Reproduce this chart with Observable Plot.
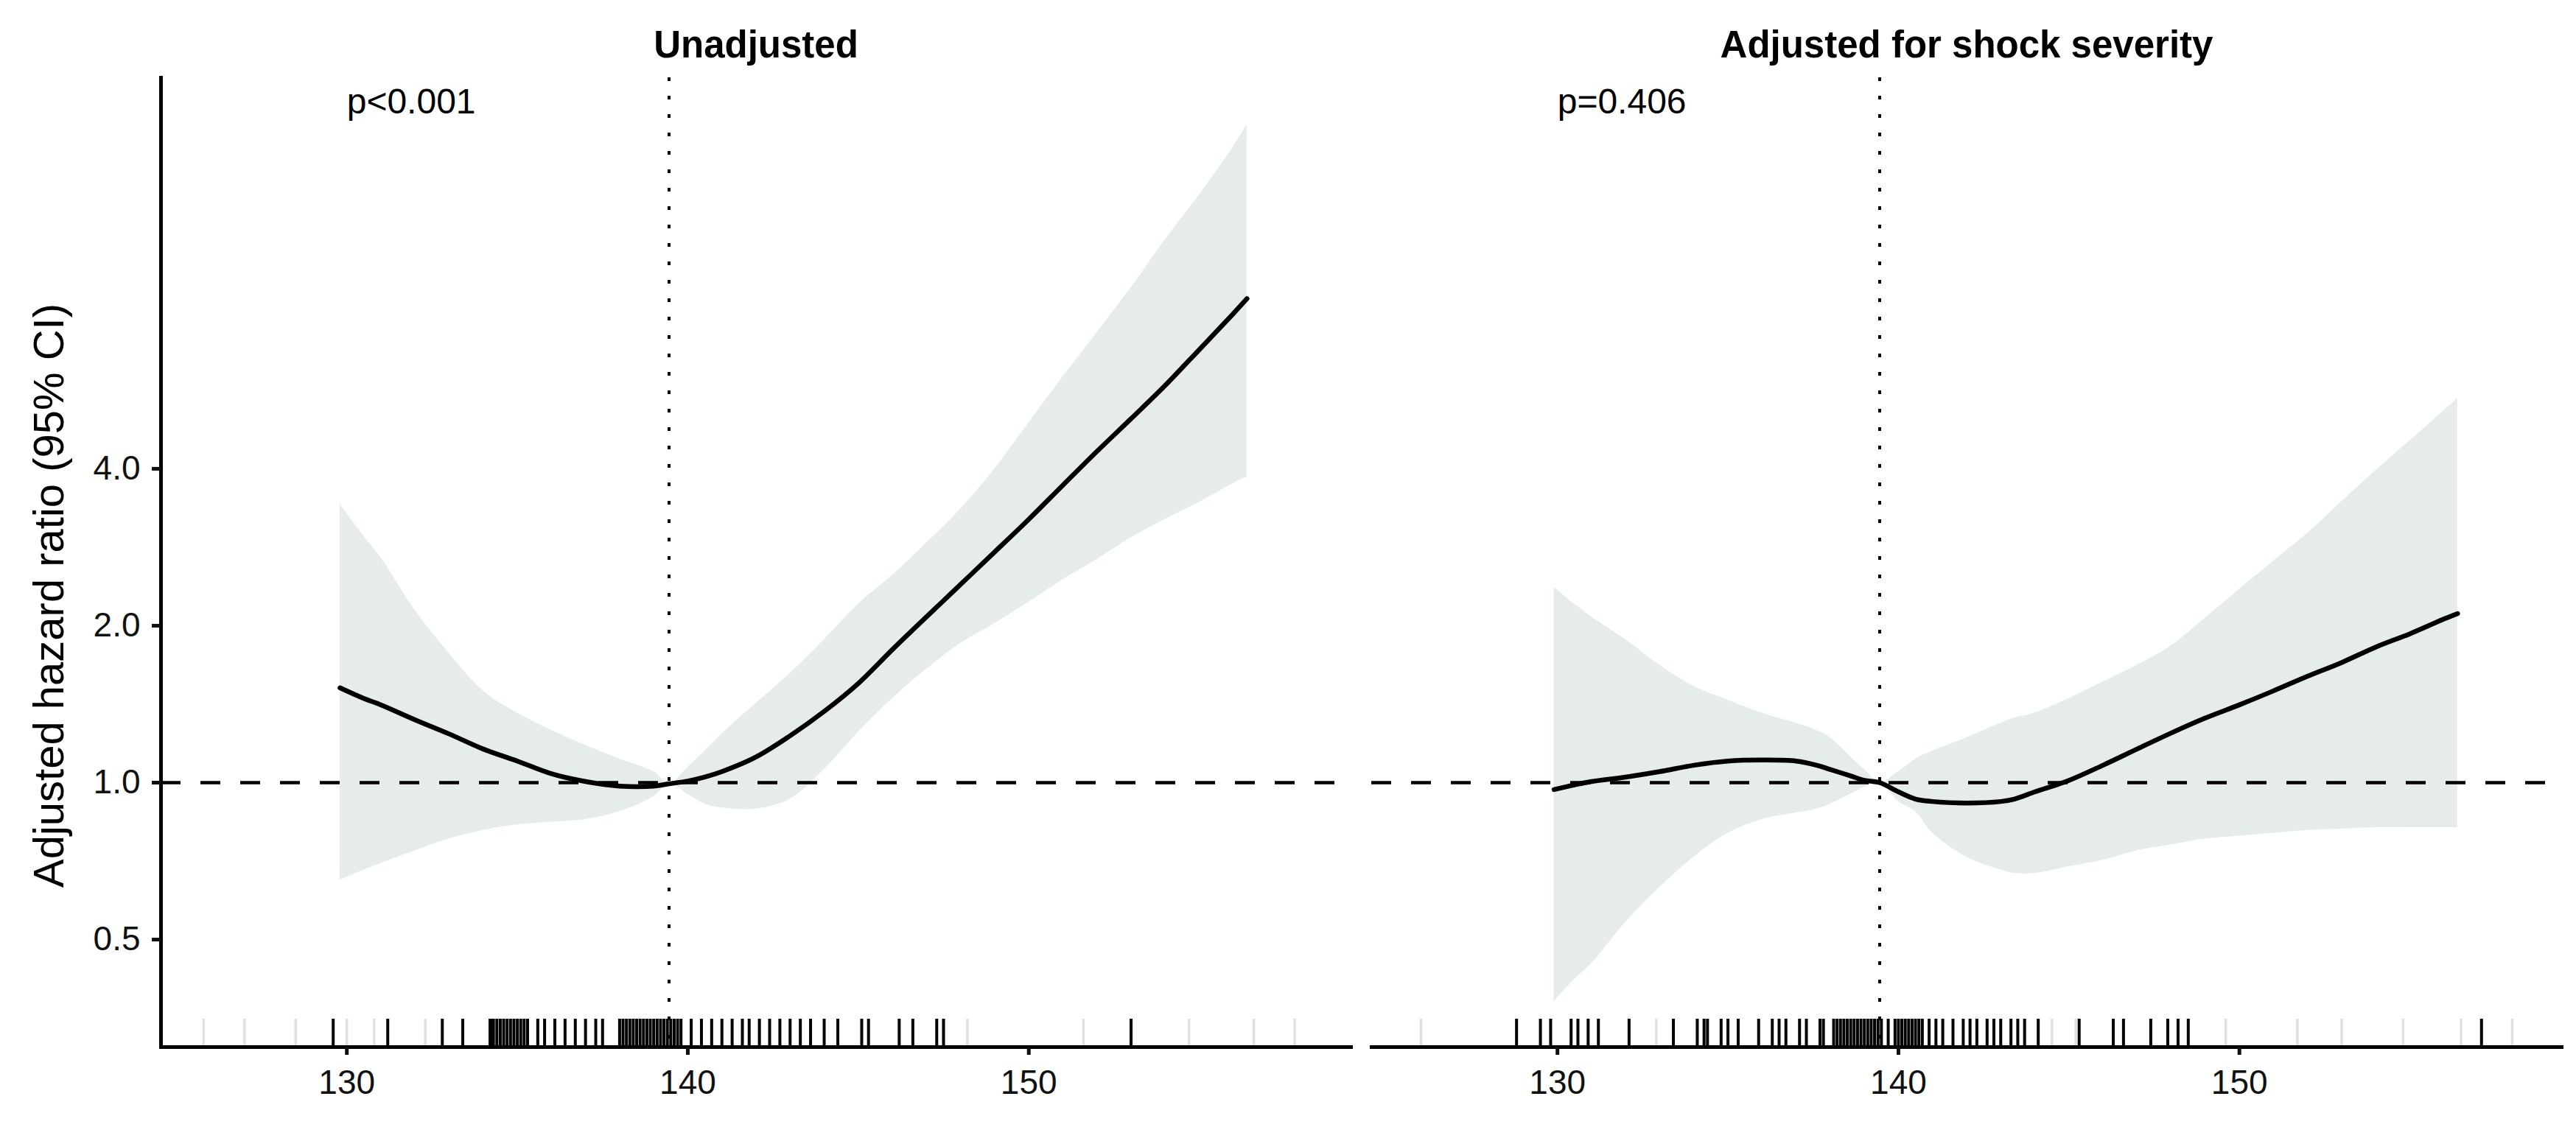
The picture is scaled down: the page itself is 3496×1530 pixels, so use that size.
<!DOCTYPE html>
<html>
<head>
<meta charset="utf-8">
<script src="https://cdn.jsdelivr.net/npm/d3@7"></script>
<script src="https://cdn.jsdelivr.net/npm/@observablehq/plot@0.6"></script>
<style>
  html, body { margin: 0; padding: 0; background: #ffffff; }
  #chart svg { display: block; font-family: "Liberation Sans", Arial, sans-serif; }
</style>
</head>
<body>
<div id="chart"></div>
<script>
// ---------- data ----------
const panels = ["Unadjusted", "Adjusted for shock severity"];
const pValues = ["p<0.001", "p=0.406"];
const pValueX = 130;
const refMAP = 139.45;
const xTicks = [130, 140, 150];
const yTicks = [0.5, 1, 2, 4];
const yLabel = "Adjusted hazard ratio (95% CI)";

// Unadjusted spline (MAP, HR, lower CI, upper CI)
const unadjX  = [129.8, 130.5, 131, 132, 133, 134, 135, 136, 137, 138, 139, 139.45, 140, 140.5, 141, 142, 143, 144, 145, 146, 147, 148, 149, 150, 151, 152, 153, 154, 155, 156, 156.4];
const unadjHR = [1.52, 1.45, 1.41, 1.32, 1.24, 1.16, 1.10, 1.04, 1.005, 0.985, 0.985, 0.995, 1.007, 1.025, 1.05, 1.12, 1.23, 1.37, 1.55, 1.80, 2.08, 2.40, 2.77, 3.20, 3.72, 4.32, 4.99, 5.78, 6.77, 7.94, 8.48];
const unadjLo = [0.65, 0.68, 0.70, 0.74, 0.78, 0.81, 0.83, 0.84, 0.85, 0.88, 0.94, 0.995, 0.95, 0.91, 0.895, 0.89, 0.93, 1.06, 1.25, 1.45, 1.65, 1.85, 2.02, 2.22, 2.45, 2.68, 2.95, 3.2, 3.45, 3.75, 3.86];
const unadjHi = [3.42, 2.97, 2.7, 2.14, 1.77, 1.50, 1.36, 1.26, 1.18, 1.11, 1.05, 0.995, 1.07, 1.15, 1.24, 1.42, 1.62, 1.88, 2.2, 2.5, 2.88, 3.35, 4.0, 4.9, 6.0, 7.3, 8.9, 11.0, 13.4, 16.6, 18.3];

// Adjusted for shock severity
const adjX  = [129.9, 130.5, 131, 132, 133, 134, 135, 136, 137, 137.6, 138, 138.6, 139, 139.45, 140, 140.5, 141, 142, 143, 143.4, 144, 145, 146, 147, 148, 149, 150, 151, 152, 153, 154, 155, 156, 156.4];
const adjHR = [0.97, 0.99, 1.005, 1.025, 1.05, 1.08, 1.10, 1.105, 1.10, 1.08, 1.06, 1.03, 1.01, 1.0, 0.96, 0.93, 0.92, 0.914, 0.92, 0.93, 0.96, 1.01, 1.08, 1.16, 1.245, 1.33, 1.41, 1.50, 1.60, 1.70, 1.82, 1.93, 2.06, 2.11];
const adjLo = [0.38, 0.42, 0.45, 0.54, 0.63, 0.72, 0.80, 0.85, 0.875, 0.89, 0.91, 0.95, 0.98, 1.0, 0.92, 0.88, 0.80, 0.72, 0.68, 0.67, 0.67, 0.69, 0.71, 0.74, 0.76, 0.78, 0.79, 0.80, 0.81, 0.815, 0.82, 0.82, 0.82, 0.82];
const adjHi = [2.37, 2.2, 2.08, 1.88, 1.68, 1.53, 1.44, 1.36, 1.30, 1.26, 1.22, 1.12, 1.06, 1.0, 1.05, 1.11, 1.15, 1.22, 1.30, 1.33, 1.36, 1.45, 1.56, 1.68, 1.83, 2.07, 2.35, 2.66, 3.01, 3.46, 3.97, 4.53, 5.17, 5.46];

// rug (observed MAP values)
const rugUnadj = [129.6, 131.2, 132.8, 133.4, 134.2, 134.25, 134.3, 134.4, 134.5, 134.6, 134.7, 134.8, 134.9, 135.0, 135.1, 135.2, 135.3, 135.6, 135.8, 136.1, 136.4, 136.7, 137.0, 137.3, 137.5, 138.0, 138.1, 138.2, 138.3, 138.4, 138.5, 138.6, 138.7, 138.8, 138.9, 139.0, 139.1, 139.2, 139.3, 139.4, 139.5, 139.6, 139.7, 139.8, 140.1, 140.4, 140.7, 141.0, 141.3, 141.6, 141.8, 142.1, 142.4, 142.7, 143.0, 143.3, 143.6, 144.0, 144.4, 145.1, 145.3, 146.2, 146.6, 147.3, 147.5, 153.0];
const rugUnadjFaint = [125.8, 127.0, 128.5, 130.0, 130.8, 132.3, 148.2, 151.6, 154.7, 156.6, 157.8];
const rugAdj = [128.8, 129.5, 129.8, 130.4, 130.6, 130.9, 131.2, 132.1, 133.4, 134.1, 134.3, 134.4, 134.8, 135.0, 135.3, 135.9, 136.3, 136.5, 136.7, 137.1, 137.3, 137.7, 137.8, 138.1, 138.2, 138.3, 138.4, 138.5, 138.6, 138.7, 138.8, 138.9, 139.0, 139.1, 139.2, 139.3, 139.4, 139.5, 139.7, 139.9, 140.0, 140.1, 140.2, 140.3, 140.4, 140.5, 140.6, 140.7, 140.9, 141.1, 141.3, 141.6, 141.9, 142.1, 142.3, 142.6, 142.8, 143.0, 143.3, 143.5, 143.7, 144.1, 145.3, 146.3, 146.6, 147.4, 147.9, 148.2, 148.5, 157.1];
const rugAdjFaint = [126.0, 132.9, 144.5, 145.2, 149.6, 151.7, 153.0, 154.8, 156.5, 158.0];

// ---------- tables ----------
const curves = [
  ...unadjX.map((x, i) => ({panel: panels[0], x, hr: unadjHR[i], lo: unadjLo[i], hi: unadjHi[i]})),
  ...adjX.map((x, i) => ({panel: panels[1], x, hr: adjHR[i], lo: adjLo[i], hi: adjHi[i]}))
];
const rug = [
  ...rugUnadj.map(x => ({panel: panels[0], x})),
  ...rugAdj.map(x => ({panel: panels[1], x}))
];
const rugFaint = [
  ...rugUnadjFaint.map(x => ({panel: panels[0], x})),
  ...rugAdjFaint.map(x => ({panel: panels[1], x}))
];
const pRows = panels.map((panel, i) => ({panel, label: pValues[i], x: pValueX}));
const refRows = panels.map(panel => ({panel, x: refMAP}));

// ---------- layout ----------
const W = 3496, H = 1530;
const mL = 218, mR = 20, mT = 105, mB = 109;
const frameH = H - mT - mB;
const rugLen = 38;
const font = "Liberation Sans, Arial, sans-serif";

const chart = Plot.plot({
  width: W,
  height: H,
  marginLeft: mL,
  marginRight: mR,
  marginTop: mT,
  marginBottom: mB,
  style: {fontFamily: font, background: "#ffffff", color: "#000"},
  fx: {domain: panels, paddingInner: 0.0172, paddingOuter: 0, axis: null, label: null},
  x: {domain: [124.55, 159.45]},
  y: {type: "log", domain: [0.311, 22.5]},
  marks: [
    Plot.areaY(curves, {fx: "panel", x: "x", y1: "lo", y2: "hi", fill: "#e6ecec", curve: "catmull-rom"}),
    Plot.ruleY([1], {stroke: "#000", strokeWidth: 4.5, strokeDasharray: "27,27"}),
    Plot.ruleX(refRows, {fx: "panel", x: "x", stroke: "#000", strokeWidth: 4, strokeDasharray: "5,20"}),
    Plot.lineY(curves, {fx: "panel", x: "x", y: "hr", stroke: "#000", strokeWidth: 6.5, curve: "catmull-rom"}),
    Plot.ruleX(rugFaint, {fx: "panel", x: "x", stroke: "#000", strokeOpacity: 0.12, strokeWidth: 3.5, insetTop: frameH - rugLen}),
    Plot.ruleX(rug, {fx: "panel", x: "x", stroke: "#000", strokeWidth: 4, insetTop: frameH - rugLen}),
    Plot.frame({anchor: "bottom", stroke: "#000", strokeWidth: 5}),
    Plot.frame({anchor: "left", stroke: "#000", strokeWidth: 5, facetAnchor: "left"}),
    Plot.axisX({ticks: xTicks, tickFormat: d => String(d), tickSize: 11, tickPadding: 20, fontSize: 46, strokeWidth: 5, color: "#111", label: null}),
    Plot.axisY({ticks: yTicks, tickFormat: d3.format(".1f"), tickSize: 12, tickPadding: 16, fontSize: 46, strokeWidth: 5, color: "#111", label: null}),
    Plot.text(panels, {fx: d => d, text: d => d, frameAnchor: "top", lineAnchor: "middle", dy: -44, fontSize: 51, fontWeight: "bold", fill: "#000"}),
    Plot.text(pRows, {fx: "panel", x: "x", text: "label", frameAnchor: "top", lineAnchor: "middle", textAnchor: "start", dy: 33, fontSize: 48, fill: "#000"}),
    Plot.text([panels[0]], {fx: d => d, text: () => yLabel, frameAnchor: "left", textAnchor: "middle", lineAnchor: "middle", rotate: -90, dx: -151, dy: 45, fontSize: 58, fill: "#000"})
  ]
});

document.getElementById("chart").appendChild(chart);
</script>
</body>
</html>
